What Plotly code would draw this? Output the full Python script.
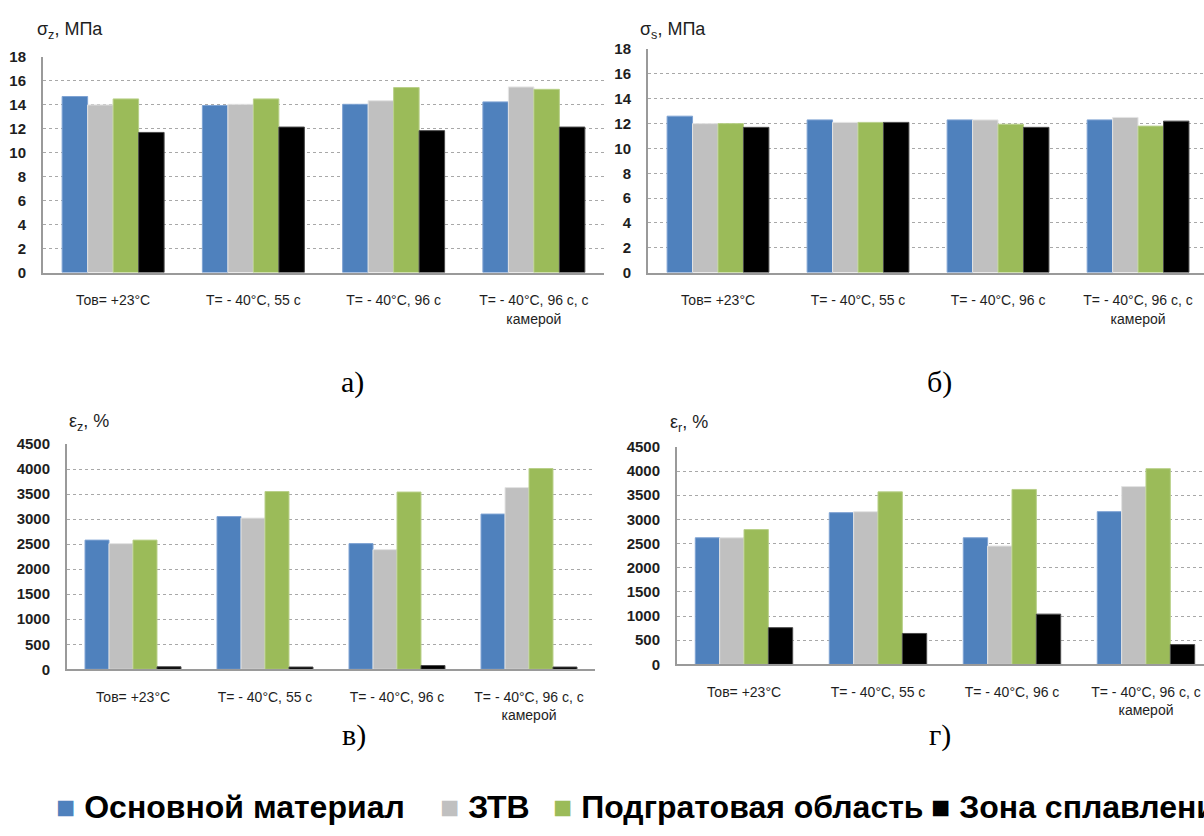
import plotly.graph_objects as go

# Test conditions (x categories)
categories = [
    "Тов= +23°С",
    "T= - 40°C, 55 с",
    "T= - 40°C, 96 с",
    "T= - 40°C, 96 с, с<br>камерой",
]

# Weld zones (series)
series_names = ["Основной материал", "ЗТВ", "Подгратовая область", "Зона сплавления"]
series_colors = ["#4F81BD", "#C0C0C0", "#9BBB59", "#000000"]
edge_colors = ["#7FA3D3", "#E4E4E4", "#B9D08A", "#4A4A4A"]

# а) sigma_z, MPa
sigma_z_base = [14.7, 13.95, 14.05, 14.25]
sigma_z_haz = [14.0, 14.05, 14.35, 15.5]
sigma_z_subgrain = [14.5, 14.5, 15.45, 15.3]
sigma_z_fusion = [11.7, 12.15, 11.85, 12.15]

# б) sigma_s, MPa
sigma_s_base = [12.6, 12.3, 12.3, 12.3]
sigma_s_haz = [12.0, 12.1, 12.3, 12.5]
sigma_s_subgrain = [12.0, 12.1, 11.95, 11.8]
sigma_s_fusion = [11.7, 12.1, 11.7, 12.2]

# в) eps_z, %
eps_z_base = [2580, 3050, 2510, 3100]
eps_z_haz = [2510, 3020, 2390, 3630]
eps_z_subgrain = [2580, 3550, 3540, 4010]
eps_z_fusion = [50, 45, 75, 45]

# г) eps_r, %
eps_r_base = [2620, 3140, 2620, 3160]
eps_r_haz = [2620, 3160, 2450, 3680]
eps_r_subgrain = [2790, 3570, 3620, 4050]
eps_r_fusion = [760, 640, 1040, 410]

W, H = 1204, 836


def fx(x):
    return x / W


def fy(y):
    return 1 - y / H


panels = [
    dict(series=[sigma_z_base, sigma_z_haz, sigma_z_subgrain, sigma_z_fusion],
         x0=43, x1=604, y0=49, y1=269, xr=[-0.5, 3.5], yr=[0, 18], dtick=2,
         title="σ<sub>z</sub>, МПа", tx=35, ty=22, cap="а)", cx=352, cy=381),
    dict(series=[sigma_s_base, sigma_s_haz, sigma_s_subgrain, sigma_s_fusion],
         x0=648, x1=1204, y0=41, y1=269, xr=[-0.5, 3.471], yr=[0, 18], dtick=2,
         title="σ<sub>s</sub>, МПа", tx=638, ty=22, cap="б)", cx=939, cy=381),
    dict(series=[eps_z_base, eps_z_haz, eps_z_subgrain, eps_z_fusion],
         x0=67, x1=595, y0=444, y1=674, xr=[-0.5, 3.5], yr=[0, 4500], dtick=500,
         title="ε<sub>z</sub>, %", tx=67, ty=422, cap="в)", cx=354, cy=741),
    dict(series=[eps_r_base, eps_r_haz, eps_r_subgrain, eps_r_fusion],
         x0=677, x1=1204, y0=447, y1=669, xr=[-0.5, 3.433], yr=[0, 4500], dtick=500,
         title="ε<sub>r</sub>, %", tx=668, ty=423, cap="г)", cx=940, cy=741),
]

fig = go.Figure()
annotations = []
layout_axes = {}
text_color = "#1e1e1e"

for i, p in enumerate(panels, start=1):
    suffix = "" if i == 1 else str(i)
    for name, color, edge, vals in zip(series_names, series_colors, edge_colors, p["series"]):
        fig.add_trace(go.Bar(
            x=categories, y=vals, name=name,
            marker=dict(color=color, line=dict(color=edge, width=1)),
            xaxis="x" + suffix, yaxis="y" + suffix, showlegend=False,
        ))
    layout_axes["xaxis" + suffix] = dict(
        domain=[fx(p["x0"]), fx(p["x1"])], anchor="y" + suffix,
        type="category", range=p["xr"], showgrid=False,
        showline=True, linecolor="#9a9a9a", linewidth=2,
        ticks="", ticklabelstandoff=14, fixedrange=True,
        tickfont=dict(family="Liberation Sans", size=14, color=text_color),
    )
    layout_axes["yaxis" + suffix] = dict(
        domain=[fy(p["y1"]), fy(p["y0"])], anchor="x" + suffix,
        range=p["yr"], dtick=p["dtick"], showgrid=True,
        gridcolor="#a8a8a8", griddash="dot", gridwidth=1, zeroline=False,
        showline=True, linecolor="#9a9a9a", linewidth=2,
        ticks="", ticklabelstandoff=12,
        tickfont=dict(family="Liberation Sans", size=15, color=text_color, weight="bold"),
    )
    annotations.append(dict(
        text=p["title"], x=fx(p["tx"]), y=fy(p["ty"]), xref="paper", yref="paper",
        xanchor="left", yanchor="middle", showarrow=False,
        font=dict(family="Liberation Sans", size=18, color=text_color),
    ))
    annotations.append(dict(
        text=p["cap"], x=fx(p["cx"]), y=fy(p["cy"]), xref="paper", yref="paper",
        xanchor="center", yanchor="middle", showarrow=False,
        font=dict(family="Liberation Serif", size=30, color="#000000"),
    ))

# Legend row along the bottom
legend_x = [54, 438, 551, 929]
for name, color, lx in zip(series_names, series_colors, legend_x):
    annotations.append(dict(
        text=f"<span style='color:{color}'>■</span> {name}",
        x=fx(lx), y=fy(815), xref="paper", yref="paper",
        xanchor="left", yanchor="middle", showarrow=False,
        font=dict(family="Liberation Sans", size=32, color="#000000", weight="bold"),
    ))

fig.update_layout(
    width=W, height=H, margin=dict(l=0, r=0, t=0, b=0),
    paper_bgcolor="white", plot_bgcolor="white",
    barmode="group", bargap=0.273, bargroupgap=0,
    annotations=annotations, showlegend=False,
    **layout_axes,
)

fig.write_html("out.html", config={"displayModeBar": False})
